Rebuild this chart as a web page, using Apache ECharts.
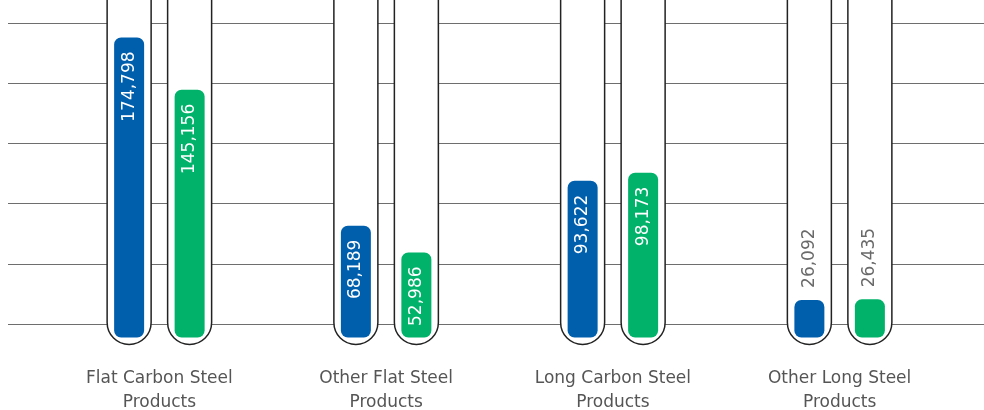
<!DOCTYPE html>
<html>
<head>
<meta charset="utf-8">
<title>Steel products</title>
<script src="https://cdn.jsdelivr.net/npm/echarts@6/dist/echarts.min.js"></script>
<style>
  html, body { margin: 0; padding: 0; background: #ffffff; }
  #chart { width: 984px; height: 410px; }
</style>
</head>
<body>
<div id="chart"></div>
<script>
// Product categories along the x axis
const categories = [
  'Flat Carbon Steel Products',
  'Other Flat Steel Products',
  'Long Carbon Steel Products',
  'Other Long Steel Products'
];
// Two period series (blue first, green second)
const seriesBlue = [174798, 68189, 93622, 26092];
const seriesGreen = [145156, 52986, 98173, 26435];
const seriesColors = ['#005FAD', '#00B26A'];

const Y_MAX = 196000;
const TUBE_W = 44;
const BAR_W = 30;
const INSET = 7;
const PAIR_OFFSET = 0.1334; // fraction of a category band
const LABEL_FONT = '17px "DejaVu Sans", sans-serif';

function tubeRenderer(side, color) {
  return function (params, api) {
    const idx = api.value(0);
    const val = api.value(1);
    const band = api.size([1, 0])[0];
    const centre = api.coord([idx, 0])[0] + side * PAIR_OFFSET * band;
    const zeroY = api.coord([idx, 0])[1];
    const topY = api.coord([idx, val])[1];
    const tubeBottom = zeroY - 1.5;
    const r = TUBE_W / 2;
    const l = centre - r, rt = centre + r;
    const barBottom = tubeBottom - INSET;
    const barTop = topY;
    const labelText = val.toLocaleString('en-US');
    // value text fits inside the bar only when the bar is long enough
    const inside = (barBottom - barTop) > 80;

    const children = [
      {
        type: 'path',
        shape: {
          pathData: 'M' + l + ' -10 L' + l + ' ' + (tubeBottom - r) +
            ' A' + r + ' ' + r + ' 0 0 0 ' + rt + ' ' + (tubeBottom - r) +
            ' L' + rt + ' -10'
        },
        style: { fill: '#ffffff', stroke: '#222222', lineWidth: 1.5 }
      },
      {
        type: 'rect',
        shape: { x: centre - BAR_W / 2, y: barTop, width: BAR_W, height: barBottom - barTop, r: 7 },
        style: { fill: color }
      },
      {
        type: 'text',
        x: centre,
        y: inside ? barTop + 14 : barTop - 12,
        rotation: Math.PI / 2,
        style: {
          text: labelText,
          fill: inside ? '#ffffff' : '#6a6a6a',
          font: LABEL_FONT,
          align: inside ? 'right' : 'left',
          verticalAlign: 'middle'
        }
      }
    ];
    return { type: 'group', children: children };
  };
}

const chart = echarts.init(document.getElementById('chart'), null, { renderer: 'canvas' });

chart.setOption({
  animation: false,
  backgroundColor: '#ffffff',
  grid: [
    { left: 46, right: 31, top: 0, bottom: 64, outerBoundsMode: 'none', containLabel: false },
    { left: 8, right: 0, top: 23, bottom: 86, outerBoundsMode: 'none', containLabel: false }
  ],
  xAxis: [
    {
      type: 'category',
      gridIndex: 0,
      data: categories,
      axisLine: { show: false },
      axisTick: { show: false },
      axisLabel: {
        margin: 21,
        color: '#555555',
        fontFamily: 'DejaVu Sans',
        fontSize: 17,
        lineHeight: 24,
        formatter: function (v) {
          const i = v.lastIndexOf(' ');
          return v.slice(0, i) + '\n' + v.slice(i + 1);
        }
      }
    },
    { type: 'value', gridIndex: 1, show: false, min: 0, max: 1 }
  ],
  yAxis: [
    { type: 'value', gridIndex: 0, min: 0, max: Y_MAX, show: false },
    {
      type: 'value', gridIndex: 1, min: 0, max: 5, interval: 1,
      axisLine: { show: false }, axisTick: { show: false }, axisLabel: { show: false },
      splitLine: { show: true, lineStyle: { color: '#6e6e6e', width: 1 } }
    }
  ],
  series: [
    {
      type: 'custom',
      xAxisIndex: 0, yAxisIndex: 0,
      renderItem: tubeRenderer(-1, seriesColors[0]),
      data: seriesBlue.map((v, i) => [i, v]),
      encode: { x: 0, y: 1 },
      clip: false,
      z: 3
    },
    {
      type: 'custom',
      xAxisIndex: 0, yAxisIndex: 0,
      renderItem: tubeRenderer(1, seriesColors[1]),
      data: seriesGreen.map((v, i) => [i, v]),
      encode: { x: 0, y: 1 },
      clip: false,
      z: 3
    }
  ]
});
</script>
</body>
</html>
